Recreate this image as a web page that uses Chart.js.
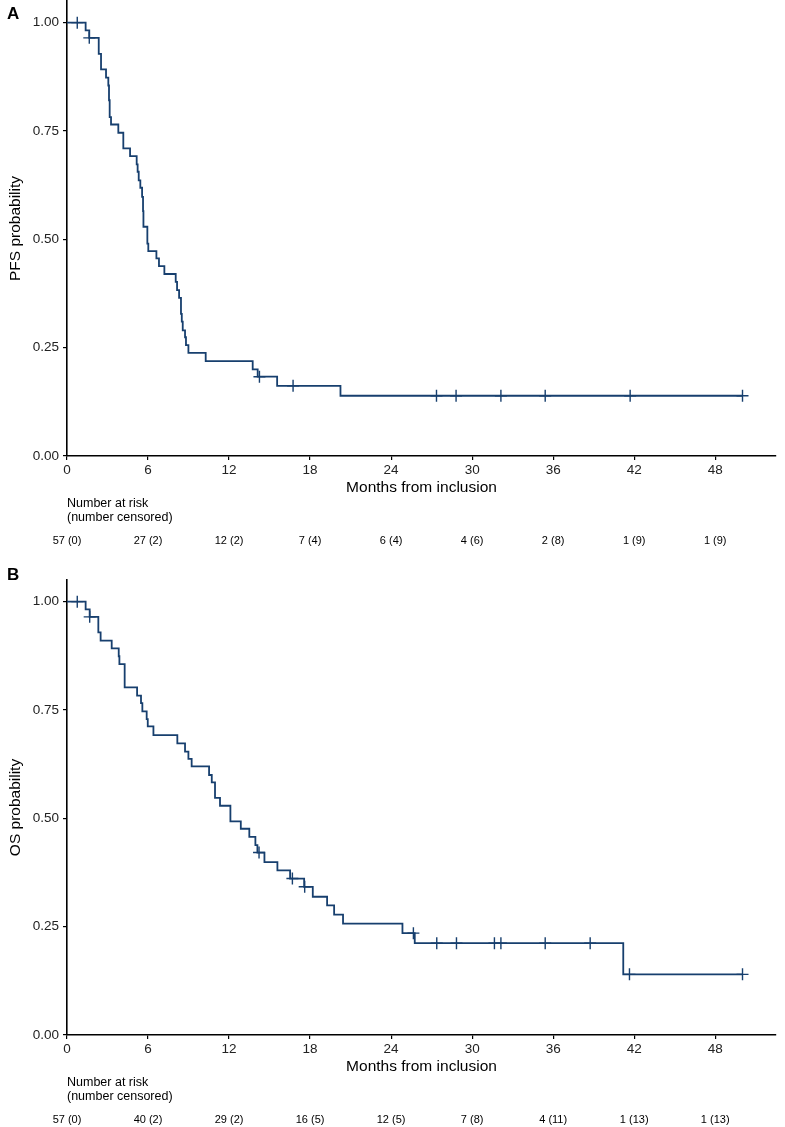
<!DOCTYPE html>
<html><head><meta charset="utf-8">
<script src="https://cdn.jsdelivr.net/npm/chart.js@4.4.1/dist/chart.umd.min.js"></script>
<style>
html,body{margin:0;padding:0;background:#fff;overflow:hidden;}
#wrap{position:relative;width:785px;height:1127px;overflow:hidden;}
canvas{position:absolute;left:0;display:block;}
#ca{top:-19px;}
#cb{top:560px;}
</style></head><body>
<div id="wrap">
<canvas id="ca" width="785" height="579"></canvas>
<canvas id="cb" width="785" height="567"></canvas>
</div>
<script>
// ---------- data ----------
const monthTicks = [0, 6, 12, 18, 24, 30, 36, 42, 48];
const probTicks = [0, 0.25, 0.5, 0.75, 1];

// Panel A: progression-free survival
const pfsEventTimes = [1.38,1.65,2.35,2.52,2.89,3.06,3.11,3.16,3.26,3.80,4.17,4.67,5.16,5.23,5.31,5.43,5.56,5.63,5.66,5.95,6.02,6.62,6.81,7.21,8.05,8.15,8.30,8.44,8.50,8.57,8.74,8.81,8.99,10.27,13.75,14.12,15.56,20.25];
const pfsSurvival   = [0.982,0.965,0.928,0.892,0.873,0.855,0.821,0.782,0.765,0.746,0.710,0.692,0.673,0.656,0.636,0.619,0.598,0.565,0.529,0.490,0.473,0.456,0.438,0.420,0.402,0.383,0.365,0.328,0.310,0.290,0.274,0.256,0.238,0.219,0.200,0.183,0.162,0.139];
const pfsCensorTimes = [0.76,1.65,14.25,16.74,27.36,28.81,32.13,35.41,41.70,50.02];
const pfsAtRisk   = [57,27,12,7,6,4,2,1,1];
const pfsCensored = [0,2,2,4,4,6,8,9,9];

// Panel B: overall survival
const osEventTimes = [1.38,1.68,2.32,2.49,3.31,3.83,3.88,4.27,5.19,5.48,5.58,5.90,5.98,6.40,8.17,8.74,8.99,9.23,10.52,10.72,10.96,11.33,12.10,12.87,13.50,13.95,14.10,14.62,15.58,16.52,17.56,18.20,19.26,19.78,20.44,24.84,25.75,41.19];
const osSurvival   = [0.982,0.965,0.929,0.910,0.892,0.874,0.856,0.802,0.783,0.766,0.747,0.729,0.712,0.692,0.673,0.654,0.637,0.620,0.600,0.583,0.547,0.529,0.493,0.476,0.457,0.438,0.421,0.399,0.380,0.361,0.342,0.319,0.299,0.278,0.257,0.235,0.212,0.140];
const osCensorTimes = [0.76,1.68,14.22,16.69,17.60,25.65,27.38,28.84,31.65,32.13,35.41,38.74,41.65,50.02];
const osAtRisk   = [57,40,29,16,12,7,4,1,1];
const osCensored = [0,2,2,5,5,8,11,13,13];

// ---------- helpers ----------
const FONT = '"Liberation Sans", Arial, Helvetica, sans-serif';
const CURVE = '#173f6e';

function survAt(times, surv, t) {
  let s = 1;
  for (let i = 0; i < times.length; i++) if (times[i] <= t) s = surv[i];
  return s;
}
function curvePoints(times, surv, censorTimes) {
  const pts = [{x: 0, y: 1}];
  times.forEach((t, i) => pts.push({x: t, y: surv[i]}));
  const last = Math.max(...censorTimes);
  pts.push({x: last, y: survAt(times, surv, last)});
  return pts;
}
function censorPoints(times, surv, censorTimes) {
  return censorTimes.map(t => ({x: t, y: survAt(times, surv, t)}));
}

const riskPlugin = {
  id: 'riskTable',
  afterDraw(chart, args, o) {
    const ctx = chart.ctx, xs = chart.scales.x, ca = chart.chartArea;
    ctx.save();
    ctx.fillStyle = '#000';
    ctx.textBaseline = 'middle';
    ctx.textAlign = 'left';
    ctx.font = 'bold 17px ' + FONT;
    ctx.fillText(o.letter, 7, o.letterY);
    ctx.textAlign = 'center';
    ctx.font = '15.5px ' + FONT;
    ctx.fillText('Months from inclusion', (ca.left + ca.right) / 2, ca.bottom + 31.5);
    ctx.textAlign = 'left';
    ctx.font = '12.5px ' + FONT;
    ctx.fillText('Number at risk', ca.left, ca.bottom + 48);
    ctx.fillText('(number censored)', ca.left, ca.bottom + 62);
    ctx.textAlign = 'center';
    ctx.font = '11px ' + FONT;
    o.times.forEach((t, i) => {
      ctx.fillText(o.atRisk[i] + ' (' + o.censored[i] + ')', xs.getPixelForValue(t), ca.bottom + 84.5);
    });
    ctx.restore();
  }
};

function makeChart(id, cfg) {
  const canvas = document.getElementById(id);
  const H = canvas.height;
  const chartBottom = cfg.bottom;
  return new Chart(canvas, {
    type: 'line',
    data: {
      datasets: [
        {
          data: curvePoints(cfg.times, cfg.surv, cfg.censorTimes),
          stepped: 'before',
          borderColor: CURVE,
          borderWidth: 1.8,
          pointRadius: 0,
          fill: false,
          tension: 0
        },
        {
          type: 'scatter',
          data: censorPoints(cfg.times, cfg.surv, cfg.censorTimes),
          showLine: false,
          pointStyle: 'cross',
          pointRadius: 6,
          pointBorderWidth: 1.4,
          borderColor: CURVE,
          backgroundColor: CURVE
        }
      ]
    },
    options: {
      responsive: false,
      animation: false,
      devicePixelRatio: 1,
      layout: {padding: {top: cfg.top, right: 9, left: 0, bottom: 0}},
      plugins: {
        legend: {display: false},
        tooltip: {enabled: false},
        riskTable: {letter: cfg.letter, letterY: cfg.letterY, times: monthTicks, atRisk: cfg.atRisk, censored: cfg.censored}
      },
      scales: {
        x: {
          type: 'linear',
          min: 0, max: 52.5,
          afterBuildTicks: s => { s.ticks = monthTicks.map(v => ({value: v})); },
          afterFit: s => { s.height = H - chartBottom; s.paddingLeft = 0; s.paddingRight = 0; },
          grid: {drawOnChartArea: false, drawTicks: true, tickLength: 4, color: '#000', lineWidth: 1.2},
          border: {display: true, color: '#000', width: 1.6},
          ticks: {color: '#222', font: {family: FONT, size: 13.5}, padding: 2, maxRotation: 0, autoSkip: false}
        },
        y: {
          type: 'linear',
          min: 0, max: 1.05,
          afterBuildTicks: s => { s.ticks = probTicks.map(v => ({value: v})); },
          afterFit: s => { s.width = 67; s.paddingTop = 0; s.paddingBottom = 0; },
          grid: {drawOnChartArea: false, drawTicks: true, tickLength: 4, color: '#000', lineWidth: 1.2},
          border: {display: true, color: '#000', width: 1.6},
          ticks: {color: '#222', font: {family: FONT, size: 13.5}, padding: 4, callback: v => v.toFixed(2)},
          title: {display: true, text: cfg.yTitle, color: '#000', font: {family: FONT, size: 15.5}, padding: {top: 6, bottom: 0}}
        }
      }
    },
    plugins: [riskPlugin]
  });
}

makeChart('ca', {
  times: pfsEventTimes, surv: pfsSurvival, censorTimes: pfsCensorTimes,
  atRisk: pfsAtRisk, censored: pfsCensored,
  letter: 'A', letterY: 33, top: 20, bottom: 475, yTitle: 'PFS probability'
});
makeChart('cb', {
  times: osEventTimes, surv: osSurvival, censorTimes: osCensorTimes,
  atRisk: osAtRisk, censored: osCensored,
  letter: 'B', letterY: 15, top: 20, bottom: 475, yTitle: 'OS probability'
});
</script>
</body></html>
